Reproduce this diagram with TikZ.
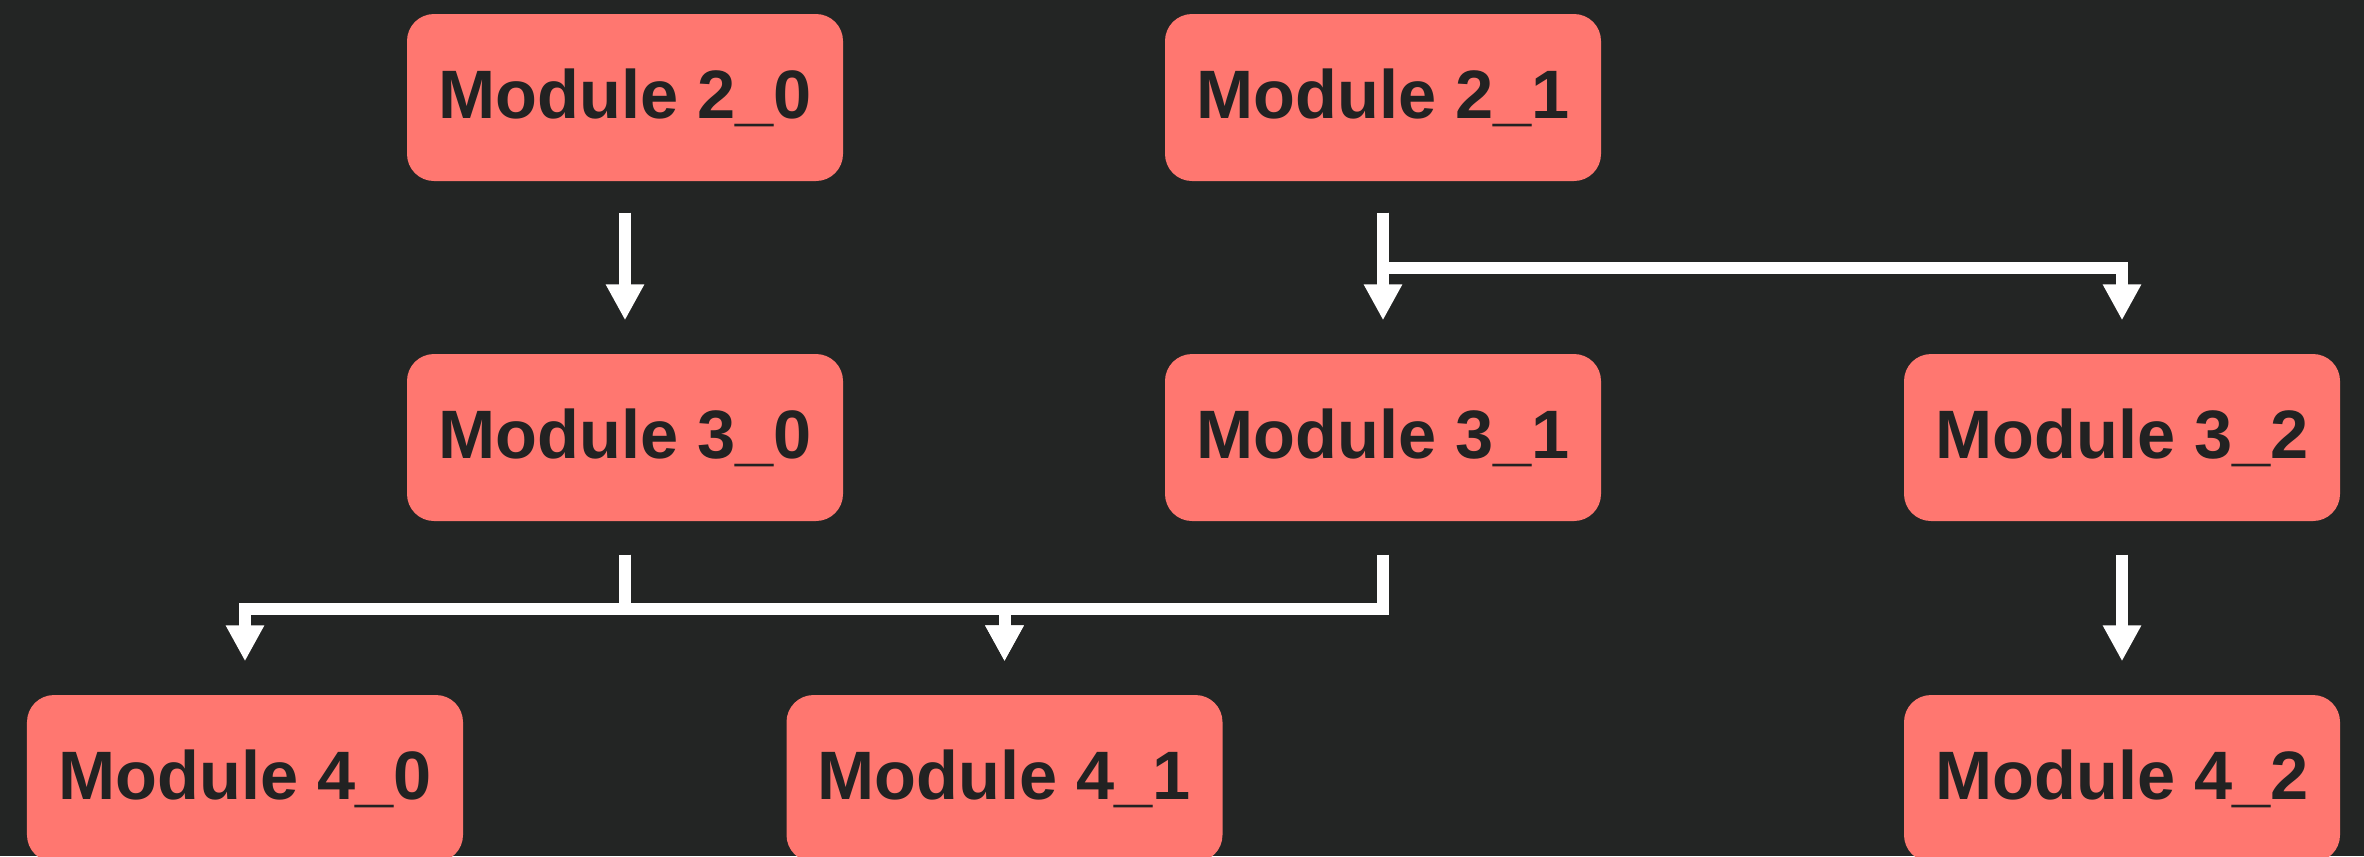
\documentclass[tikz,border=0pt]{standalone}
\usepackage{fontspec}
\setmainfont{Liberation Sans}
\usetikzlibrary{arrows.meta}
\definecolor{bgdark}{HTML}{232524}
\definecolor{boxfill}{HTML}{FF7770}
\definecolor{boxtext}{HTML}{222222}
\tikzset{
  modbox/.style={rounded corners=0.27cm, fill=boxfill, draw=none,
    minimum width=4.36cm, minimum height=1.67cm, inner sep=0pt,
    text=boxtext, font=\fontsize{19.5}{22}\selectfont\bfseries},
  link/.style={draw=white, line width=0.12cm, line cap=butt, line join=miter,
    -{Triangle[width=0.36cm,length=0.36cm]}},
}
\begin{document}
\begin{tikzpicture}[x=1cm,y=1cm]
  \fill[bgdark] (0,0) rectangle (23.64,-8.56);
  \useasboundingbox (0,0) rectangle (23.64,-8.56);

  % module boxes, three tiers
  \node[modbox] (m20) at (6.25,-0.975) {Module 2\_0};
  \node[modbox] (m21) at (13.83,-0.975) {Module 2\_1};
  \node[modbox] (m30) at (6.25,-4.375) {Module 3\_0};
  \node[modbox] (m31) at (13.83,-4.375) {Module 3\_1};
  \node[modbox] (m32) at (21.22,-4.375) {Module 3\_2};
  \node[modbox] (m40) at (2.45,-7.785) {Module 4\_0};
  \node[modbox] (m41) at (10.045,-7.785) {Module 4\_1};
  \node[modbox] (m42) at (21.22,-7.785) {Module 4\_2};

  % tier 2 -> tier 3
  \draw[link] ([yshift=-0.31cm]m20.south) -- ([yshift=0.33cm]m30.north);
  \draw[link] ([yshift=-0.31cm]m21.south) -- ([yshift=0.33cm]m31.north);
  \draw[link] ([yshift=-0.31cm]m21.south) -- ++(0,-0.555) -| ([yshift=0.33cm]m32.north);

  % tier 3 -> tier 4
  \draw[link] ([yshift=-0.33cm]m30.south) -- ++(0,-0.54) -| ([yshift=0.33cm]m40.north);
  \draw[link] ([yshift=-0.33cm]m30.south) -- ++(0,-0.54) -| ([yshift=0.33cm]m41.north);
  \draw[link] ([yshift=-0.33cm]m31.south) -- ++(0,-0.54) -| ([yshift=0.33cm]m41.north);
  \draw[link] ([yshift=-0.33cm]m32.south) -- ([yshift=0.33cm]m42.north);
\end{tikzpicture}
\end{document}
